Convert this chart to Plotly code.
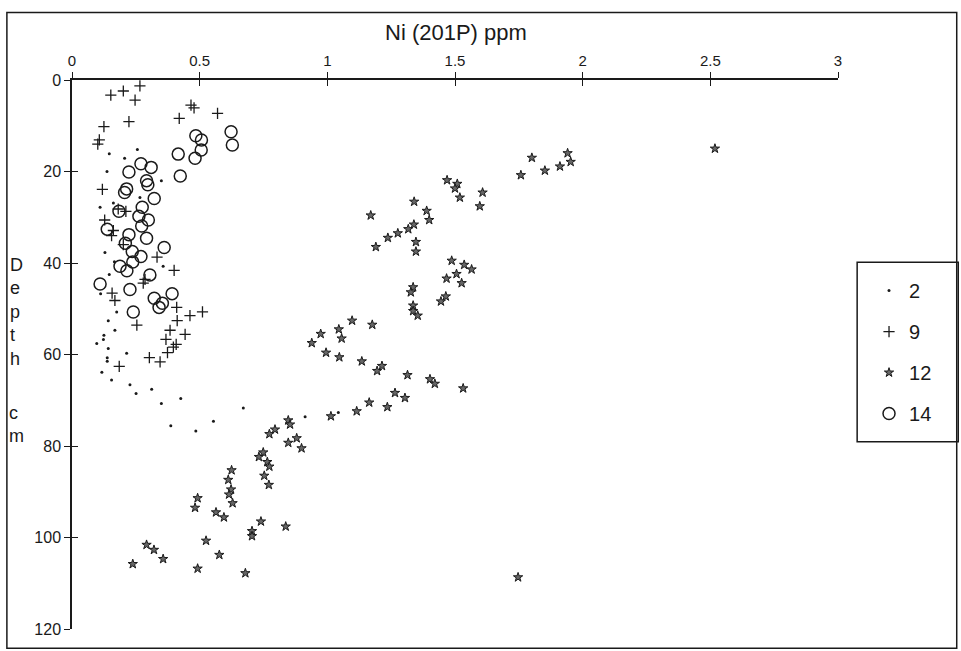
import plotly.graph_objects as go

# ---------------- data (Ni ppm vs depth cm) ----------------
s2_ni = [0.256, 0.146, 0.206, 0.137, 0.350, 0.266, 0.110, 0.162, 0.129, 0.357,
         0.166, 0.146, 0.112, 0.175, 0.142, 0.168, 0.125, 0.123, 0.097, 0.142,
         0.214, 0.138, 0.138, 0.117, 0.155, 0.227, 0.312, 0.251, 0.350, 0.426,
         0.387, 0.485, 0.554, 0.671, 0.913, 1.043]
s2_depth = [15.2, 16.1, 17.1, 20.0, 22.0, 25.7, 27.8, 26.9, 37.7, 40.7,
            39.7, 42.5, 46.7, 50.7, 52.6, 54.7, 55.8, 56.7, 57.6, 58.7,
            59.7, 60.7, 61.5, 63.9, 65.6, 66.6, 67.6, 68.5, 70.7, 69.6,
            75.6, 76.7, 74.6, 71.7, 73.6, 72.7]

s9_ni = [0.152, 0.201, 0.266, 0.247, 0.466, 0.478, 0.570, 0.420, 0.223, 0.125,
         0.107, 0.101, 0.119, 0.181, 0.211, 0.128, 0.162, 0.155, 0.201, 0.333,
         0.400, 0.286, 0.279, 0.157, 0.168, 0.254, 0.410, 0.412, 0.462, 0.511,
         0.384, 0.443, 0.368, 0.397, 0.408, 0.374, 0.303, 0.345, 0.185]
s9_depth = [3.3, 2.4, 1.3, 4.4, 5.5, 6.1, 7.3, 8.4, 9.1, 10.2,
            13.1, 14.0, 23.9, 28.2, 28.7, 30.6, 32.9, 34.0, 36.0, 38.7,
            41.6, 43.6, 44.4, 46.6, 48.2, 53.6, 49.7, 52.6, 51.5, 50.7,
            54.7, 55.6, 56.7, 58.4, 57.8, 59.6, 60.7, 61.6, 62.6]

s12_ni = [2.518, 1.941, 1.953, 1.911, 1.852, 1.801, 1.758, 1.469, 1.509, 1.500,
          1.519, 1.608, 1.597, 1.340, 1.389, 1.399, 1.170, 1.339, 1.317, 1.276,
          1.237, 1.190, 1.347, 1.347, 1.487, 1.536, 1.565, 1.506, 1.467, 1.526,
          1.336, 1.327, 1.464, 1.445, 1.336, 1.336, 1.354, 1.097, 1.176, 1.045,
          0.974, 1.056, 0.939, 0.995, 1.047, 1.135, 1.214, 1.195, 1.314, 1.402,
          1.421, 1.532, 1.265, 1.304, 1.164, 1.235, 1.115, 1.014, 0.847, 0.854,
          0.795, 0.773, 0.880, 0.847, 0.899, 0.749, 0.732, 0.765, 0.773, 0.753,
          0.771, 0.625, 0.612, 0.623, 0.615, 0.629, 0.492, 0.482, 0.564, 0.595,
          0.740, 0.837, 0.705, 0.705, 0.525, 0.292, 0.321, 0.577, 0.357, 0.238,
          0.492, 0.679, 1.747]
s12_depth = [15.0, 16.0, 17.9, 18.9, 19.8, 17.0, 20.8, 21.9, 22.7, 23.7,
             25.7, 24.6, 27.6, 26.6, 28.6, 30.6, 29.6, 31.6, 32.6, 33.5,
             34.5, 36.5, 35.4, 37.5, 39.5, 40.4, 41.4, 42.4, 43.4, 44.4,
             45.3, 46.4, 47.3, 48.4, 49.3, 50.5, 51.5, 52.6, 53.5, 54.5,
             55.5, 56.5, 57.5, 59.6, 60.6, 61.5, 62.5, 63.6, 64.5, 65.4,
             66.4, 67.4, 68.4, 69.5, 70.5, 71.5, 72.4, 73.5, 74.4, 75.3,
             76.4, 77.4, 78.3, 79.3, 80.5, 81.4, 82.4, 83.5, 84.5, 86.5,
             88.5, 85.3, 87.4, 89.5, 90.6, 92.5, 91.4, 93.5, 94.5, 95.6,
             96.5, 97.6, 98.6, 99.7, 100.7, 101.6, 102.7, 103.8, 104.7, 105.8,
             106.8, 107.8, 108.7]

s14_ni = [0.623, 0.628, 0.485, 0.507, 0.506, 0.482, 0.416, 0.424, 0.270, 0.310,
          0.223, 0.292, 0.297, 0.214, 0.206, 0.322, 0.275, 0.184, 0.262, 0.299,
          0.273, 0.138, 0.223, 0.292, 0.361, 0.209, 0.236, 0.270, 0.238, 0.188,
          0.215, 0.305, 0.110, 0.227, 0.392, 0.322, 0.354, 0.341, 0.240]
s14_depth = [11.3, 14.2, 12.2, 13.1, 15.3, 17.1, 16.2, 21.0, 18.3, 19.1,
             20.1, 22.0, 22.9, 23.8, 24.6, 25.9, 27.8, 28.7, 29.8, 30.6,
             31.9, 32.6, 33.8, 34.6, 36.6, 35.7, 37.5, 38.6, 39.8, 40.7,
             41.7, 42.6, 44.6, 45.8, 46.7, 47.7, 48.8, 49.7, 50.7]

x_ticks = [0, 0.5, 1, 1.5, 2, 2.5, 3]
x_ticktext = ["0", "0.5", "1", "1.5", "2", "2.5", "3"]
y_ticks = [0, 20, 40, 60, 80, 100, 120]

FONT = "Liberation Sans, Arial, sans-serif"
INK = "#1a1a1a"

fig = go.Figure()

fig.add_trace(go.Scatter(x=s2_ni, y=s2_depth, mode="markers", name="2",
                         legendgroup="a",
                         marker=dict(symbol="circle", size=3, color=INK)))
fig.add_trace(go.Scatter(x=s9_ni, y=s9_depth, mode="markers", name="9",
                         legendgroup="b",
                         marker=dict(symbol="cross-thin", size=8,
                                     line=dict(width=1.3, color=INK), color=INK)))
fig.add_trace(go.Scatter(x=s12_ni, y=s12_depth, mode="markers", name="12",
                         legendgroup="c",
                         marker=dict(symbol="star", size=7, color="#666",
                                     line=dict(width=1, color=INK))))
fig.add_trace(go.Scatter(x=s14_ni, y=s14_depth, mode="markers", name="14",
                         legendgroup="d",
                         marker=dict(symbol="circle-open", size=12,
                                     line=dict(width=1.5, color=INK), color=INK)))
# empty trace to carry overlay axes for crossing ticks
fig.add_trace(go.Scatter(x=[], y=[], xaxis="x2", yaxis="y2", showlegend=False))

axis_common = dict(showgrid=False, zeroline=False, showline=True,
                   linecolor=INK, linewidth=1.5, tickcolor=INK, tickwidth=1.3,
                   ticklen=6)

fig.update_layout(
    width=961, height=651,
    margin=dict(l=72, r=123, t=80, b=22),
    paper_bgcolor="white", plot_bgcolor="white",
    font=dict(family=FONT, color=INK),
    showlegend=True,
    xaxis=dict(range=[0, 3], side="top", tickvals=x_ticks, ticktext=x_ticktext,
               ticks="outside", tickfont=dict(size=15, family=FONT, color=INK),
               anchor="y", **axis_common),
    yaxis=dict(range=[120, 0], tickvals=y_ticks, ticks="outside",
               tickfont=dict(size=16, family=FONT, color=INK), anchor="x",
               **axis_common),
    xaxis2=dict(range=[0, 3], side="top", overlaying="x", anchor="y2",
                tickvals=x_ticks, ticks="inside", showticklabels=False,
                **axis_common),
    yaxis2=dict(range=[120, 0], overlaying="y", anchor="x2", side="left",
                tickvals=y_ticks, ticks="inside", showticklabels=False,
                **axis_common),
    legend=dict(x=1.0405, y=0.652, xanchor="left", yanchor="top",
                borderwidth=0, bgcolor="rgba(0,0,0,0)",
                font=dict(size=20, family=FONT, color=INK),
                traceorder="grouped", tracegroupgap=12,
                itemwidth=30),
)

# outer frame
fig.add_shape(type="rect", xref="paper", yref="paper",
              x0=-0.085, x1=1.155, y0=-0.035, y1=1.123,
              line=dict(color=INK, width=1.5))
# legend box
fig.add_shape(type="rect", xref="paper", yref="paper",
              x0=1.025, x1=1.157, y0=0.341, y1=0.668,
              line=dict(color=INK, width=1.5))

# axis title at top
fig.add_annotation(text="Ni (201P) ppm", xref="paper", yref="paper",
                   x=0.501, y=1.086, showarrow=False,
                   font=dict(size=22, family=FONT, color=INK),
                   xanchor="center", yanchor="middle")

# vertical stacked y label
fig.add_annotation(text="D<br>e<br>p<br>t<br>h", xref="paper", yref="paper",
                   x=-0.072, y=(629 - 312) / 549, showarrow=False,
                   font=dict(size=18, family=FONT, color=INK),
                   xanchor="center", yanchor="middle", align="left")
fig.add_annotation(text="c<br>m", xref="paper", yref="paper",
                   x=-0.072, y=(629 - 424) / 549, showarrow=False,
                   font=dict(size=18, family=FONT, color=INK),
                   xanchor="center", yanchor="middle", align="left")

fig.write_html("out.html", config={"displayModeBar": False},
               post_script="document.body.style.margin='0px';")
